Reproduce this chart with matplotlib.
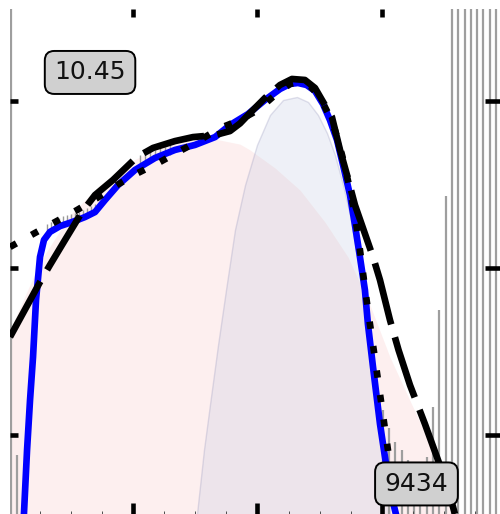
import numpy as np
import matplotlib
matplotlib.use("Agg")
import matplotlib.pyplot as plt

# fitted curve (solid blue)
fit_x = [0.124, 0.149, 0.173, 0.197, 0.221, 0.253, 0.285, 0.333, 0.414, 0.510,
         0.614, 0.695, 0.775, 0.880, 1.016, 1.177, 1.337, 1.498, 1.659, 1.779,
         1.924, 2.060, 2.181, 2.261, 2.325, 2.394, 2.462, 2.526, 2.582, 2.639,
         2.687, 2.743, 2.783, 2.823, 2.863, 2.887, 2.928, 2.984, 3.024, 3.064, 3.112]
fit_y = [0.527, 0.910, 1.210, 1.467, 1.808, 2.066, 2.168, 2.216, 2.251, 2.275,
         2.305, 2.335, 2.407, 2.497, 2.587, 2.659, 2.707, 2.737, 2.784, 2.856,
         2.922, 3.006, 3.072, 3.102, 3.108, 3.096, 3.060, 2.982, 2.886, 2.766,
         2.617, 2.437, 2.257, 2.066, 1.868, 1.665, 1.407, 1.066, 0.868, 0.671, 0.527]

# smoothed estimate (dotted)
smooth_x = [0.012, 0.213, 0.373, 0.550, 0.711, 0.871, 1.040, 1.217, 1.378, 1.538,
            1.699, 1.859, 2.004, 2.141, 2.261, 2.341, 2.422, 2.502, 2.566, 2.622,
            2.679, 2.735, 2.783, 2.823, 2.855, 2.887, 2.928, 2.968, 3.008, 3.048,
            3.088, 3.120]
smooth_y = [2.126, 2.210, 2.275, 2.347, 2.419, 2.497, 2.569, 2.635, 2.701, 2.766,
            2.838, 2.886, 2.946, 3.036, 3.102, 3.114, 3.090, 3.024, 2.928, 2.826,
            2.677, 2.497, 2.317, 2.108, 1.928, 1.749, 1.539, 1.329, 1.120, 0.910,
            0.671, 0.527]

# model curve (long dashes)
model_x = [0.012, 0.253, 0.333, 0.454, 0.590, 0.695, 0.839, 1.032, 1.161, 1.337,
           1.482, 1.659, 1.779, 1.860, 1.940, 2.060, 2.181, 2.277, 2.381, 2.462,
           2.518, 2.598, 2.663, 2.719, 2.783, 2.839, 2.928, 2.984, 3.064, 3.133,
           3.225, 3.345, 3.450, 3.522, 3.586]
model_y = [1.587, 1.916, 2.018, 2.168, 2.335, 2.437, 2.527, 2.665, 2.719, 2.760,
           2.784, 2.796, 2.820, 2.866, 2.928, 3.018, 3.096, 3.132, 3.126, 3.078,
           3.006, 2.904, 2.707, 2.557, 2.377, 2.257, 2.066, 1.928, 1.689, 1.509,
           1.299, 1.066, 0.850, 0.701, 0.527]

# broad component (pink)
broad_x = [0.012, 0.253, 0.494, 0.735, 0.976, 1.217, 1.458, 1.659, 1.859, 1.940,
           2.141, 2.341, 2.542, 2.727, 2.904, 3.064, 3.241, 3.386, 3.506, 3.562]
broad_y = [1.629, 2.036, 2.317, 2.497, 2.635, 2.725, 2.772, 2.772, 2.742, 2.707,
           2.599, 2.467, 2.275, 2.066, 1.778, 1.467, 1.180, 0.946, 0.671, 0.527]

# narrow skewed component (lavender)
narrow_x = [1.482, 1.514, 1.570, 1.618, 1.683, 1.747, 1.819, 1.900, 1.996, 2.100,
            2.205, 2.317, 2.406, 2.486, 2.558, 2.622, 2.687, 2.743, 2.799, 2.847,
            2.904, 2.960, 3.016, 3.064, 3.104]
narrow_y = [0.251, 0.527, 0.910, 1.180, 1.539, 1.868, 2.228, 2.497, 2.737, 2.916,
            3.006, 3.024, 2.994, 2.916, 2.808, 2.677, 2.497, 2.317, 2.078, 1.868,
            1.539, 1.210, 0.850, 0.527, 0.251]

# histogram counts (non-empty bins only)
hist_x = [0.020, 0.071, 3.006, 3.056, 3.107, 3.157, 3.208, 3.259, 3.309, 3.360,
          3.410, 3.461, 3.512, 3.562, 3.613, 3.663, 3.714, 3.765, 3.815, 3.866, 3.916]
hist_y = [3.900, 0.880, 1.150, 1.042, 0.958, 0.910, 0.850, 0.790, 0.760, 0.868,
          1.168, 1.749, 2.431, 3.900, 3.900, 3.900, 3.900, 3.900, 3.900, 3.900, 3.900]

# raw samples shown as rug marks
raw_x = [0.309, 0.341, 0.373, 0.406, 0.438, 0.470, 0.502, 0.534, 0.566, 0.598,
         0.631, 0.663, 0.695, 1.056, 1.096, 1.137, 1.177, 1.217, 1.257, 1.297]
raw_y = [2.234, 2.246, 2.257, 2.269, 2.281, 2.287, 2.293, 2.299, 2.305, 2.317,
         2.329, 2.341, 2.353, 2.647, 2.659, 2.671, 2.677, 2.689, 2.695, 2.707]

peak_label = "10.45"
count_label = "9434"

fig = plt.figure(figsize=(5.0, 5.14), dpi=100)
ax = fig.add_axes([0.02, 0.0, 0.98, 0.9825])

ax.fill_between(broad_x, 0, broad_y, color=(0.94, 0.5, 0.5), alpha=0.12, lw=0, zorder=1)
ax.fill_between(narrow_x, 0, narrow_y, facecolor=(0.75, 0.78, 0.88, 0.25),
                edgecolor=(0.6, 0.6, 0.75, 0.3), lw=1, zorder=1.2)

ax.vlines(hist_x, 0, hist_y, color="0.62", lw=1.6, zorder=1.5)
ax.plot(raw_x, raw_y, ls="none", marker="|", ms=7, mew=1.0, color="0.6", zorder=2)

ax.plot(fit_x, fit_y, color="#0000ff", lw=4.8, solid_joinstyle="round", zorder=3)
ax.plot(smooth_x, smooth_y, color="black", lw=4.8, dashes=(1.1, 2.6),
        dash_joinstyle="round", zorder=4)
ax.plot(model_x, model_y, color="black", lw=4.8, dashes=(9.5, 2),
        dash_joinstyle="round", zorder=5)

box = dict(boxstyle="round,pad=0.38", fc="#d0d0d0", ec="black", lw=1.4)
ax.text(0.655, 3.171, peak_label, fontsize=18, ha="center", va="center",
        color="#111111", bbox=box, zorder=10)
ax.text(3.277, 0.707, count_label, fontsize=18, ha="center", va="center",
        color="#111111", bbox=box, zorder=10)

ax.set_xlim(0.012, 3.948)
ax.set_ylim(0.527, 3.551)
ax.set_xticks([1, 2, 3])
ax.set_xticks(np.arange(0.25, 3.9, 0.25), minor=True)
ax.set_yticks([1, 2, 3])
ax.set_xticklabels([])
ax.set_yticklabels([])
ax.tick_params(which="major", direction="in", width=3.3, color="black",
               top=True, bottom=True, left=True, right=True)
ax.tick_params(which="minor", axis="x", direction="in", length=2.2, width=0.7,
               color="0.3", top=False, bottom=True)
ax.tick_params(which="minor", axis="y", left=False, right=False)
for s in ax.spines.values():
    s.set_visible(False)

# different tick lengths on each side
for t in ax.xaxis.get_major_ticks():
    t.tick1line.set_markersize(8.0)
    t.tick2line.set_markersize(5.8)
for t in ax.yaxis.get_major_ticks():
    t.tick1line.set_markersize(5.8)
    t.tick2line.set_markersize(10.8)

fig.savefig("out.png", dpi=100)
